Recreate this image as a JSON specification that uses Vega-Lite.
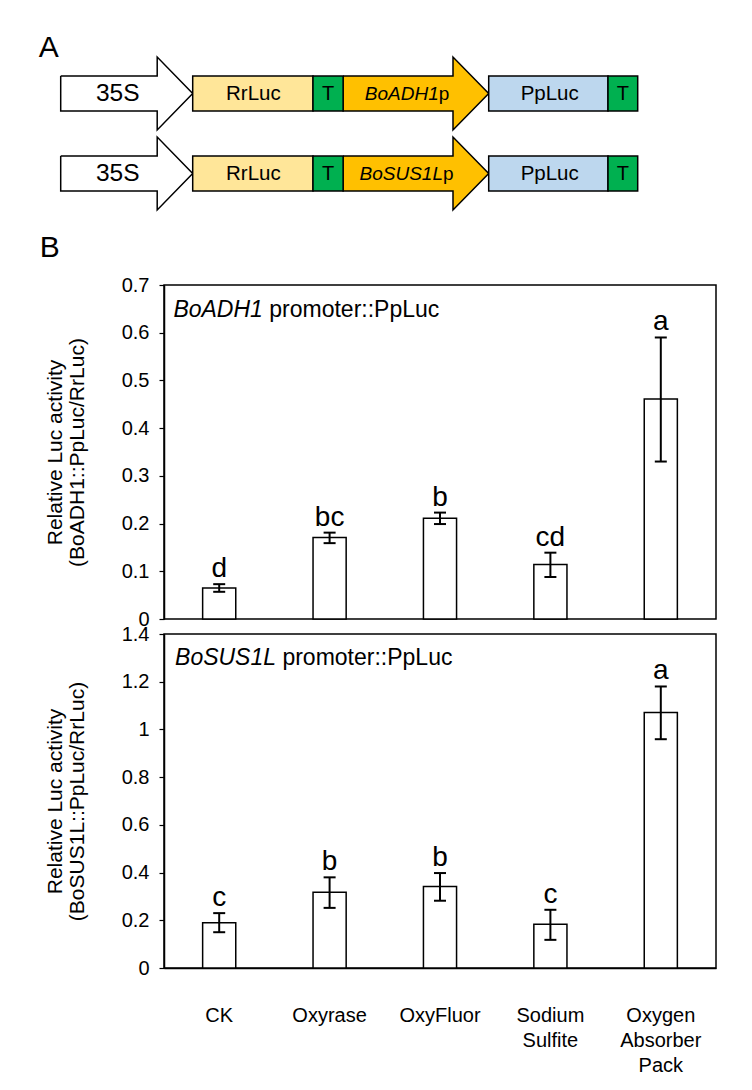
{
  "$schema": "https://vega.github.io/schema/vega-lite/v6.json",
  "background": "white",
  "padding": {"left": 38, "top": 30, "right": 5, "bottom": 5},
  "spacing": 15,
  "bounds": "flush",
  "config": {
    "font": "Liberation Sans",
    "view": {"stroke": "black", "strokeWidth": 1.5},
    "axis": {"grid": false, "labelFont": "Liberation Sans", "titleFont": "Liberation Sans", "labelColor": "black", "titleColor": "black", "domainColor": "black", "tickColor": "black"},
    "text": {"color": "black", "font": "Liberation Sans"}
  },
  "datasets": {
    "arrows": [
      {"shape": "a1", "part": "35S", "i": 0, "u": 0, "v": 46},
      {"shape": "a1", "part": "35S", "i": 1, "u": 96.5, "v": 46},
      {"shape": "a1", "part": "35S", "i": 2, "u": 96.5, "v": 27},
      {"shape": "a1", "part": "35S", "i": 3, "u": 132, "v": 63.5},
      {"shape": "a1", "part": "35S", "i": 4, "u": 96.5, "v": 100},
      {"shape": "a1", "part": "35S", "i": 5, "u": 96.5, "v": 81},
      {"shape": "a1", "part": "35S", "i": 6, "u": 0, "v": 81},
      {"shape": "a1", "part": "35S", "i": 7, "u": 0, "v": 46},
      {"shape": "p1", "part": "promoter", "i": 0, "u": 282.4, "v": 46},
      {"shape": "p1", "part": "promoter", "i": 1, "u": 392.3, "v": 46},
      {"shape": "p1", "part": "promoter", "i": 2, "u": 392.3, "v": 27},
      {"shape": "p1", "part": "promoter", "i": 3, "u": 428, "v": 63.5},
      {"shape": "p1", "part": "promoter", "i": 4, "u": 392.3, "v": 100},
      {"shape": "p1", "part": "promoter", "i": 5, "u": 392.3, "v": 81},
      {"shape": "p1", "part": "promoter", "i": 6, "u": 282.4, "v": 81},
      {"shape": "p1", "part": "promoter", "i": 7, "u": 282.4, "v": 46},
      {"shape": "a2", "part": "35S", "i": 0, "u": 0, "v": 126},
      {"shape": "a2", "part": "35S", "i": 1, "u": 96.5, "v": 126},
      {"shape": "a2", "part": "35S", "i": 2, "u": 96.5, "v": 107},
      {"shape": "a2", "part": "35S", "i": 3, "u": 132, "v": 143.5},
      {"shape": "a2", "part": "35S", "i": 4, "u": 96.5, "v": 180},
      {"shape": "a2", "part": "35S", "i": 5, "u": 96.5, "v": 161},
      {"shape": "a2", "part": "35S", "i": 6, "u": 0, "v": 161},
      {"shape": "a2", "part": "35S", "i": 7, "u": 0, "v": 126},
      {"shape": "p2", "part": "promoter", "i": 0, "u": 282.4, "v": 126},
      {"shape": "p2", "part": "promoter", "i": 1, "u": 392.3, "v": 126},
      {"shape": "p2", "part": "promoter", "i": 2, "u": 392.3, "v": 107},
      {"shape": "p2", "part": "promoter", "i": 3, "u": 428, "v": 143.5},
      {"shape": "p2", "part": "promoter", "i": 4, "u": 392.3, "v": 180},
      {"shape": "p2", "part": "promoter", "i": 5, "u": 392.3, "v": 161},
      {"shape": "p2", "part": "promoter", "i": 6, "u": 282.4, "v": 161},
      {"shape": "p2", "part": "promoter", "i": 7, "u": 282.4, "v": 126}
    ],
    "boxes": [
      {"part": "RrLuc", "u1": 132, "u2": 252.3, "top": 46, "bot": 81},
      {"part": "T", "u1": 252.3, "u2": 282.4, "top": 46, "bot": 81},
      {"part": "PpLuc", "u1": 428, "u2": 547.3, "top": 46, "bot": 81},
      {"part": "T", "u1": 547.3, "u2": 577, "top": 46, "bot": 81},
      {"part": "RrLuc", "u1": 132, "u2": 252.3, "top": 126, "bot": 161},
      {"part": "T", "u1": 252.3, "u2": 282.4, "top": 126, "bot": 161},
      {"part": "PpLuc", "u1": 428, "u2": 547.3, "top": 126, "bot": 161},
      {"part": "T", "u1": 547.3, "u2": 577, "top": 126, "bot": 161}
    ],
    "big": [{"t": "35S", "u": 57, "v": 63.5}, {"t": "35S", "u": 57, "v": 143.5}],
    "mid": [{"t": "RrLuc", "u": 192.7, "v": 63.5}, {"t": "PpLuc", "u": 489, "v": 63.5}, {"t": "RrLuc", "u": 192.7, "v": 143.5}, {"t": "PpLuc", "u": 489, "v": 143.5}],
    "tt": [{"t": "T", "u": 267.35, "v": 63.5}, {"t": "T", "u": 562.15, "v": 63.5}, {"t": "T", "u": 267.35, "v": 143.5}, {"t": "T", "u": 562.15, "v": 143.5}],
    "ital": [{"t": "BoADH1", "u": 378, "v": 63.5}, {"t": "BoSUS1L", "u": 382.3, "v": 143.5}],
    "pp": [{"t": "p", "u": 378, "v": 63.5}, {"t": "p", "u": 382.3, "v": 143.5}],
    "panel": [{"t": "A", "u": -12, "v": 17.5}, {"t": "B", "u": -11, "v": 218}],
    "top": [
      {"treatment": "CK", "mean": 0.065, "lo": 0.057, "hi": 0.073, "letter": "d"},
      {"treatment": "Oxyrase", "mean": 0.171, "lo": 0.159, "hi": 0.181, "letter": "bc"},
      {"treatment": "OxyFluor", "mean": 0.211, "lo": 0.199, "hi": 0.223, "letter": "b"},
      {"treatment": "Sodium Sulfite", "mean": 0.114, "lo": 0.088, "hi": 0.139, "letter": "cd"},
      {"treatment": "Oxygen Absorber Pack", "mean": 0.461, "lo": 0.33, "hi": 0.59, "letter": "a"}
    ],
    "bottom": [
      {"treatment": "CK", "mean": 0.19, "lo": 0.15, "hi": 0.23, "letter": "c"},
      {"treatment": "Oxyrase", "mean": 0.317, "lo": 0.252, "hi": 0.38, "letter": "b"},
      {"treatment": "OxyFluor", "mean": 0.342, "lo": 0.282, "hi": 0.398, "letter": "b"},
      {"treatment": "Sodium Sulfite", "mean": 0.183, "lo": 0.118, "hi": 0.244, "letter": "c"},
      {"treatment": "Oxygen Absorber Pack", "mean": 1.071, "lo": 0.959, "hi": 1.18, "letter": "a"}
    ],
    "ttlTopI": [{"pos": 0.017, "val": 0.6476, "t": "BoADH1"}],
    "ttlTopN": [{"pos": 0.1907, "val": 0.6476, "t": "promoter::PpLuc"}],
    "ttlBotI": [{"pos": 0.02, "val": 1.2994, "t": "BoSUS1L"}],
    "ttlBotN": [{"pos": 0.2145, "val": 1.2994, "t": "promoter::PpLuc"}]
  },
  "vconcat": [
    {
      "width": 552,
      "height": 240,
      "view": {"stroke": null},
      "layer": [
        {
          "data": {"name": "arrows"},
          "mark": {"type": "line", "stroke": "black", "strokeWidth": 1.5, "strokeJoin": "miter", "opacity": 1, "interpolate": "linear"},
          "encoding": {
            "x": {"field": "u", "type": "quantitative", "scale": {"domain": [103.3, 655.3], "nice": false, "zero": false}, "axis": null},
            "y": {"field": "v", "type": "quantitative", "scale": {"domain": [0, 240], "reverse": true, "nice": false, "zero": false}, "axis": null},
            "detail": {"field": "shape"},
            "order": {"field": "i", "type": "quantitative"},
            "fill": {"field": "part", "type": "nominal", "scale": {"domain": ["35S", "RrLuc", "T", "promoter", "PpLuc"], "range": ["#ffffff", "#ffe699", "#00b050", "#ffc000", "#bdd7ee"]}, "legend": null}
          }
        },
        {
          "data": {"name": "boxes"},
          "mark": {"type": "rect", "stroke": "black", "strokeWidth": 1.5, "opacity": 1},
          "encoding": {
            "x": {"field": "u1", "type": "quantitative", "scale": {"domain": [103.3, 655.3], "nice": false, "zero": false}, "axis": null},
            "x2": {"field": "u2"},
            "y": {"field": "top", "type": "quantitative", "scale": {"domain": [0, 240], "reverse": true, "nice": false, "zero": false}, "axis": null},
            "y2": {"field": "bot"},
            "fill": {"field": "part", "type": "nominal", "scale": {"domain": ["35S", "RrLuc", "T", "promoter", "PpLuc"], "range": ["#ffffff", "#ffe699", "#00b050", "#ffc000", "#bdd7ee"]}, "legend": null}
          }
        },
        {
          "data": {"name": "big"},
          "mark": {"type": "text", "fontSize": 24.5, "align": "center", "baseline": "middle"},
          "encoding": {
            "x": {"field": "u", "type": "quantitative"},
            "y": {"field": "v", "type": "quantitative"},
            "text": {"field": "t"}
          }
        },
        {
          "data": {"name": "mid"},
          "mark": {"type": "text", "fontSize": 20.5, "align": "center", "baseline": "middle"},
          "encoding": {
            "x": {"field": "u", "type": "quantitative"},
            "y": {"field": "v", "type": "quantitative"},
            "text": {"field": "t"}
          }
        },
        {
          "data": {"name": "tt"},
          "mark": {"type": "text", "fontSize": 20, "align": "center", "baseline": "middle"},
          "encoding": {
            "x": {"field": "u", "type": "quantitative"},
            "y": {"field": "v", "type": "quantitative"},
            "text": {"field": "t"}
          }
        },
        {
          "data": {"name": "ital"},
          "mark": {"type": "text", "fontSize": 19, "fontStyle": "italic", "align": "right", "baseline": "middle"},
          "encoding": {
            "x": {"field": "u", "type": "quantitative"},
            "y": {"field": "v", "type": "quantitative"},
            "text": {"field": "t"}
          }
        },
        {
          "data": {"name": "pp"},
          "mark": {"type": "text", "fontSize": 19, "align": "left", "baseline": "middle"},
          "encoding": {
            "x": {"field": "u", "type": "quantitative"},
            "y": {"field": "v", "type": "quantitative"},
            "text": {"field": "t"}
          }
        },
        {
          "data": {"name": "panel"},
          "mark": {"type": "text", "fontSize": 30, "align": "center", "baseline": "middle"},
          "encoding": {
            "x": {"field": "u", "type": "quantitative"},
            "y": {"field": "v", "type": "quantitative"},
            "text": {"field": "t"}
          }
        }
      ]
    },
    {
      "width": 552,
      "height": 334,
      "layer": [
        {
          "data": {"name": "top"},
          "layer": [
            {
              "mark": {"type": "bar", "fill": "white", "stroke": "black", "strokeWidth": 1.5, "width": {"band": 0.3}},
              "encoding": {
                "x": {"field": "treatment", "type": "nominal", "sort": null, "scale": {"paddingInner": 0, "paddingOuter": 0}, "axis": null},
                "y": {"field": "mean", "type": "quantitative", "scale": {"domain": [0, 0.7], "nice": false},
                  "axis": {"values": [0, 0.1, 0.2, 0.3, 0.4, 0.5, 0.6, 0.7], "format": "~g", "title": ["Relative Luc activity", "(BoADH1::PpLuc/RrLuc)"], "titleFontSize": 21, "titleFontWeight": "normal", "titleLineHeight": 22, "titlePadding": 34, "labelFontSize": 20, "labelPadding": 10, "tickSize": 5, "domainWidth": 1.5, "tickWidth": 1.2}}
              }
            },
            {
              "mark": {"type": "rule", "strokeWidth": 2, "color": "black"},
              "encoding": {
                "x": {"field": "treatment", "type": "nominal", "sort": null},
                "y": {"field": "lo", "type": "quantitative"},
                "y2": {"field": "hi"}
              }
            },
            {
              "mark": {"type": "tick", "thickness": 2, "size": 12, "color": "black", "opacity": 1},
              "encoding": {
                "x": {"field": "treatment", "type": "nominal", "sort": null},
                "y": {"field": "lo", "type": "quantitative"}
              }
            },
            {
              "mark": {"type": "tick", "thickness": 2, "size": 12, "color": "black", "opacity": 1},
              "encoding": {
                "x": {"field": "treatment", "type": "nominal", "sort": null},
                "y": {"field": "hi", "type": "quantitative"}
              }
            },
            {
              "mark": {"type": "text", "fontSize": 28, "baseline": "bottom", "dy": -1},
              "encoding": {
                "x": {"field": "treatment", "type": "nominal", "sort": null},
                "y": {"field": "hi", "type": "quantitative"},
                "text": {"field": "letter"}
              }
            }
          ]
        },
        {
          "data": {"name": "ttlTopI"},
          "mark": {"type": "text", "fontSize": 23, "fontStyle": "italic", "align": "left", "baseline": "middle"},
          "encoding": {
            "x": {"field": "pos", "type": "quantitative", "scale": {"domain": [0, 1], "nice": false}, "axis": null},
            "y": {"field": "val", "type": "quantitative"},
            "text": {"field": "t"}
          }
        },
        {
          "data": {"name": "ttlTopN"},
          "mark": {"type": "text", "fontSize": 23, "align": "left", "baseline": "middle"},
          "encoding": {
            "x": {"field": "pos", "type": "quantitative", "scale": {"domain": [0, 1], "nice": false}, "axis": null},
            "y": {"field": "val", "type": "quantitative"},
            "text": {"field": "t"}
          }
        }
      ],
      "resolve": {"scale": {"x": "independent"}}
    },
    {
      "width": 552,
      "height": 334,
      "layer": [
        {
          "data": {"name": "bottom"},
          "layer": [
            {
              "mark": {"type": "bar", "fill": "white", "stroke": "black", "strokeWidth": 1.5, "width": {"band": 0.3}},
              "encoding": {
                "x": {"field": "treatment", "type": "nominal", "sort": null, "scale": {"paddingInner": 0, "paddingOuter": 0},
                  "axis": {"title": null, "labelAngle": 0, "labelFontSize": 20, "labelLineHeight": 25, "labelBaseline": "middle", "labelPadding": 47, "ticks": false, "tickSize": 0, "domainWidth": 1.5, "labelLimit": 0,
                    "labelExpr": "datum.label == 'Sodium Sulfite' ? ['Sodium', 'Sulfite'] : datum.label == 'Oxygen Absorber Pack' ? ['Oxygen', 'Absorber', 'Pack'] : datum.label"}},
                "y": {"field": "mean", "type": "quantitative", "scale": {"domain": [0, 1.4], "nice": false},
                  "axis": {"values": [0, 0.2, 0.4, 0.6, 0.8, 1, 1.2, 1.4], "format": "~g", "title": ["Relative Luc activity", "(BoSUS1L::PpLuc/RrLuc)"], "titleFontSize": 21, "titleFontWeight": "normal", "titleLineHeight": 22, "titlePadding": 34, "labelFontSize": 20, "labelPadding": 10, "tickSize": 5, "domainWidth": 1.5, "tickWidth": 1.2}}
              }
            },
            {
              "mark": {"type": "rule", "strokeWidth": 2, "color": "black"},
              "encoding": {
                "x": {"field": "treatment", "type": "nominal", "sort": null},
                "y": {"field": "lo", "type": "quantitative"},
                "y2": {"field": "hi"}
              }
            },
            {
              "mark": {"type": "tick", "thickness": 2, "size": 12, "color": "black", "opacity": 1},
              "encoding": {
                "x": {"field": "treatment", "type": "nominal", "sort": null},
                "y": {"field": "lo", "type": "quantitative"}
              }
            },
            {
              "mark": {"type": "tick", "thickness": 2, "size": 12, "color": "black", "opacity": 1},
              "encoding": {
                "x": {"field": "treatment", "type": "nominal", "sort": null},
                "y": {"field": "hi", "type": "quantitative"}
              }
            },
            {
              "mark": {"type": "text", "fontSize": 28, "baseline": "bottom", "dy": -1},
              "encoding": {
                "x": {"field": "treatment", "type": "nominal", "sort": null},
                "y": {"field": "hi", "type": "quantitative"},
                "text": {"field": "letter"}
              }
            }
          ]
        },
        {
          "data": {"name": "ttlBotI"},
          "mark": {"type": "text", "fontSize": 23, "fontStyle": "italic", "align": "left", "baseline": "middle"},
          "encoding": {
            "x": {"field": "pos", "type": "quantitative", "scale": {"domain": [0, 1], "nice": false}, "axis": null},
            "y": {"field": "val", "type": "quantitative"},
            "text": {"field": "t"}
          }
        },
        {
          "data": {"name": "ttlBotN"},
          "mark": {"type": "text", "fontSize": 23, "align": "left", "baseline": "middle"},
          "encoding": {
            "x": {"field": "pos", "type": "quantitative", "scale": {"domain": [0, 1], "nice": false}, "axis": null},
            "y": {"field": "val", "type": "quantitative"},
            "text": {"field": "t"}
          }
        }
      ],
      "resolve": {"scale": {"x": "independent"}}
    }
  ]
}
